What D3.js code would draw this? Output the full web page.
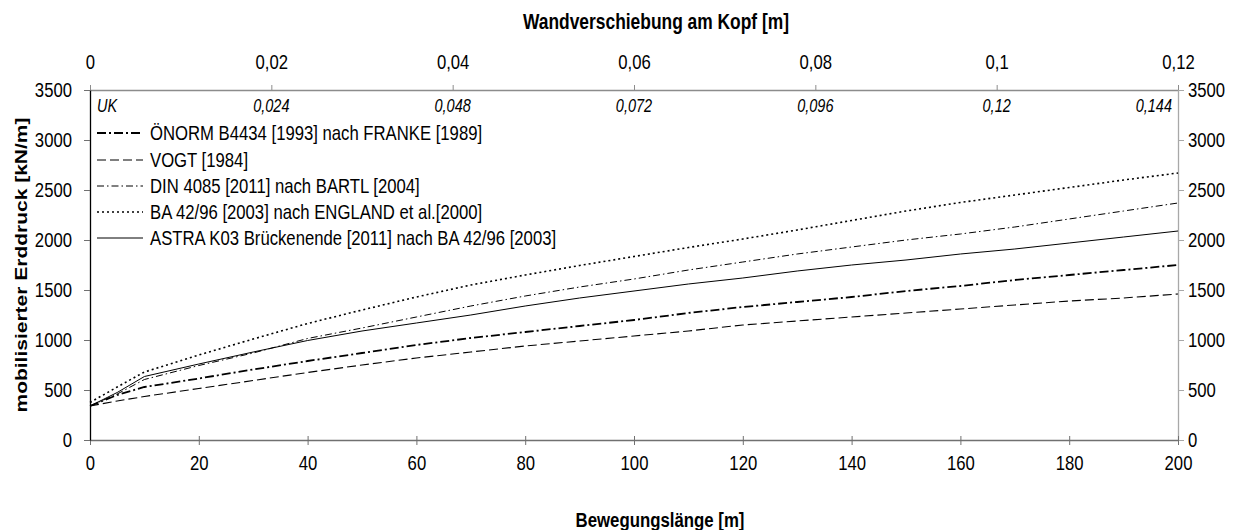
<!DOCTYPE html>
<html><head><meta charset="utf-8">
<script src="https://cdn.jsdelivr.net/npm/d3@7/dist/d3.min.js"></script>
<style>
html,body{margin:0;padding:0;background:#fff;}
svg{display:block;font-family:"Liberation Sans",Arial,sans-serif;}
</style></head>
<body><svg id="chart" width="1235" height="530"></svg>
<script>
// ---- data ----
const xValues = [0,5,10,20,30,40,50,60,70,80,90,100,110,120,130,140,150,160,170,180,190,200];
const onorm = [340,450,530,615,705,790,870,950,1020,1080,1140,1200,1270,1330,1380,1430,1490,1540,1600,1650,1700,1750];
const vogt  = [340,390,435,515,595,675,750,820,880,940,990,1040,1090,1150,1190,1230,1270,1310,1350,1390,1420,1460];
const din   = [340,460,605,745,870,1015,1120,1230,1340,1440,1530,1610,1700,1780,1860,1930,2000,2060,2130,2210,2290,2370];
const ba    = [375,530,680,850,1010,1165,1300,1430,1550,1650,1745,1835,1925,2010,2100,2195,2290,2375,2450,2525,2600,2670];
const astra = [340,475,635,760,880,995,1090,1170,1250,1340,1420,1490,1560,1620,1690,1750,1800,1860,1910,1970,2030,2090];
const seriesNames = [
  "ÖNORM B4434 [1993] nach FRANKE [1989]",
  "VOGT [1984]",
  "DIN 4085 [2011] nach BARTL [2004]",
  "BA 42/96 [2003] nach ENGLAND et al.[2000]",
  "ASTRA K03 Brückenende [2011] nach BA 42/96 [2003]"
];
const seriesValues = [onorm, vogt, din, ba, astra];
const bottomTicks = [0,20,40,60,80,100,120,140,160,180,200];
const yTicks = [0,500,1000,1500,2000,2500,3000,3500];
const topTicks = [0,0.02,0.04,0.06,0.08,0.1,0.12];
const innerLabels = ["UK","0,024","0,048","0,072","0,096","0,12","0,144"];
const xTitle = "Bewegungslänge [m]";
const yTitle = "mobilisierter Erddruck [kN/m]";
const topTitle = "Wandverschiebung am Kopf [m]";

// ---- styles ----
const styles = [
  {dash:"9,3,2,3", w:1.8},
  {dash:"9,4", w:1.1},
  {dash:"7,3,1.5,3", w:1},
  {dash:"2,3", w:1.6},
  {dash:null, w:1}
];
const S = 1.25; // vertical text stretch
const FS = 16.7;

const svg = d3.select("#chart");
const L=90, R=1178, T=90, B=440;
const x = d3.scaleLinear().domain([0,200]).range([L,R]);
const xTop = d3.scaleLinear().domain([0,0.12]).range([L,R]);
const y = d3.scaleLinear().domain([0,3500]).range([B,T]);
const fmt = d => String(d).replace(".",",");

function stretch(sel){
  sel.each(function(){
    const t=d3.select(this);
    const tx=+t.attr("x")||0, ty=+t.attr("y")||0;
    t.attr("x",0).attr("y",0).attr("transform",`translate(${tx},${ty}) scale(1,${S})`);
  });
}
function styleAxis(g, lineColor, tickColor){
  g.select(".domain").attr("stroke",lineColor).attr("stroke-width",1.3);
  g.selectAll(".tick line").attr("stroke",tickColor).attr("stroke-width",1);
  g.selectAll(".tick text").attr("fill","#000").attr("font-size",FS).attr("font-family","Liberation Sans, Arial, sans-serif");
}

// top axis
const gTop = svg.append("g").attr("transform",`translate(0,${T})`)
  .call(d3.axisTop(xTop).tickValues(topTicks).tickFormat(fmt).tickSizeInner(5).tickSizeOuter(0).tickPadding(16));
styleAxis(gTop,"#8c8c8c","#8c8c8c"); stretch(gTop.selectAll(".tick text"));
// right axis
const gRight = svg.append("g").attr("transform",`translate(${R},0)`)
  .call(d3.axisRight(y).tickValues(yTicks).tickFormat(d3.format("d")).tickSizeInner(6).tickSizeOuter(0).tickPadding(4));
styleAxis(gRight,"#a8a8a8","#a8a8a8"); stretch(gRight.selectAll(".tick text"));
// bottom axis
const gBottom = svg.append("g").attr("transform",`translate(0,${B})`)
  .call(d3.axisBottom(x).tickValues(bottomTicks).tickFormat(d3.format("d")).tickSizeInner(5).tickSizeOuter(0).tickPadding(10));
styleAxis(gBottom,"#707070","#707070");
gBottom.selectAll(".tick line").attr("y1",-4);
stretch(gBottom.selectAll(".tick text"));
// left axis
const gLeft = svg.append("g").attr("transform",`translate(${L},0)`)
  .call(d3.axisLeft(y).tickValues(yTicks).tickFormat(d3.format("d")).tickSizeInner(6).tickSizeOuter(0).tickPadding(12));
styleAxis(gLeft,"#000","#707070"); stretch(gLeft.selectAll(".tick text"));

// inner italic labels
const anchors = innerLabels.map((d,i)=> i===0?"start":(i===innerLabels.length-1?"end":"middle"));
const offs = innerLabels.map((d,i)=> i===0?7:(i===innerLabels.length-1?-6:0));
innerLabels.forEach((lab,i)=>{
  svg.append("text").text(lab)
    .attr("transform",`translate(${xTop(topTicks[i])+offs[i]},${T+22}) scale(1,${S})`)
    .attr("text-anchor",anchors[i]).attr("font-style","italic").attr("font-size",14.5).attr("fill","#000");
});

// lines
const line = d3.line().x((d,i)=>x(xValues[i])).y(d=>y(d));
seriesValues.forEach((vals,k)=>{
  svg.append("path").datum(vals).attr("d",line).attr("fill","none")
    .attr("stroke","#000").attr("stroke-width",styles[k].w)
    .attr("stroke-dasharray",styles[k].dash);
});

// legend
const legY = [133,160,186,212,238];
seriesNames.forEach((name,k)=>{
  svg.append("line").attr("x1",97).attr("x2",143).attr("y1",legY[k]).attr("y2",legY[k])
    .attr("stroke","#000").attr("stroke-width",styles[k].w).attr("stroke-dasharray",styles[k].dash);
  svg.append("text").text(name)
    .attr("transform",`translate(150,${legY[k]}) scale(1,${S})`)
    .attr("dy","0.35em").attr("font-size",FS).attr("fill","#000");
});

// titles
svg.append("text").text(topTitle).attr("transform",`translate(656,29) scale(1,${S})`)
  .attr("text-anchor","middle").attr("font-weight","bold").attr("font-size",17.4).attr("fill","#000");
svg.append("text").text(xTitle).attr("transform",`translate(660,527) scale(1,${S})`)
  .attr("text-anchor","middle").attr("font-weight","bold").attr("font-size",16.8).attr("fill","#000");
svg.append("text").text(yTitle).attr("transform",`translate(27,265) rotate(-90) scale(${S},1)`)
  .attr("text-anchor","middle").attr("font-weight","bold").attr("font-size",16.8).attr("fill","#000");
</script></body></html>
